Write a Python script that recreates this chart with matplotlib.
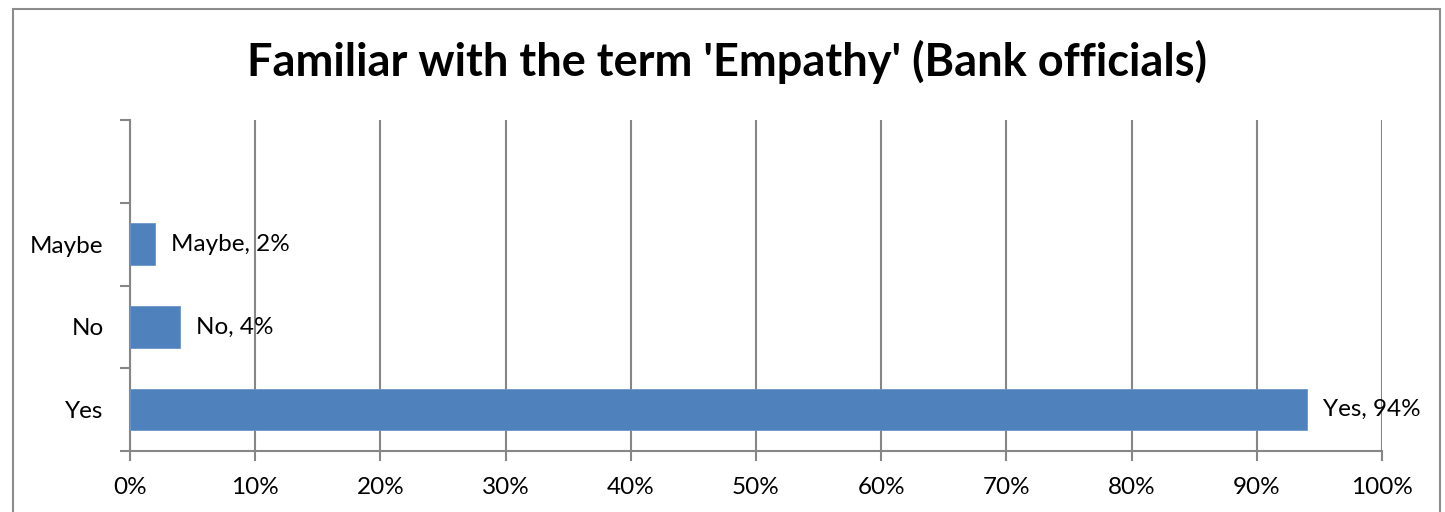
import matplotlib
matplotlib.use("Agg")
import matplotlib.pyplot as plt
from matplotlib.patches import Rectangle
from matplotlib.ticker import MultipleLocator, FuncFormatter

categories = ["Yes", "No", "Maybe"]
values = [94, 4, 2]
title = "Familiar with the term 'Empathy' (Bank officials)"

plt.rcParams["font.family"] = ["Lato", "DejaVu Sans"]

W, H = 1445, 512
fig = plt.figure(figsize=(W / 100, H / 100), dpi=100)

# outer chart frame
fig.patches.append(Rectangle((13 / W, -0.05), (1440 - 13) / W, 1.05 - 9 / H,
                             transform=fig.transFigure, fill=False,
                             edgecolor="#8c8c8c", linewidth=1.5))

left, right, top, bottom = 130, 1382, 120, 451
ax = fig.add_axes([left / W, 1 - bottom / H, (right - left) / W, (bottom - top) / H])

pos = list(range(len(categories)))
ax.barh(pos, values, height=0.5, color="#4F81BD", edgecolor="#6b97cc",
        linewidth=0.6, zorder=3)

for p, c, v in zip(pos, categories, values):
    ax.annotate(f"{c}, {v}%", xy=(v, p), xytext=(11.5, 0), textcoords="offset points",
                ha="left", va="center", fontsize=17.5, color="black")

ax.set_xlim(0, 100)
ax.set_ylim(-0.5, len(categories) + 0.5)
ax.xaxis.set_major_locator(MultipleLocator(10))
ax.xaxis.set_major_formatter(FuncFormatter(lambda x, _: f"{x:.0f}%"))
ax.set_yticks(pos)
ax.set_yticklabels(categories)
ax.set_yticks([i - 0.5 for i in range(len(categories) + 2)], minor=True)

ax.grid(axis="x", color="#868686", linewidth=1.5, zorder=0)
ax.tick_params(axis="x", which="major", length=7, width=1.5, color="#868686",
               labelsize=17.5, pad=12)
ax.tick_params(axis="y", which="major", length=0, labelsize=17.5, pad=19)
ax.tick_params(axis="y", which="minor", length=7, width=1.5, color="#868686")

for s in ["top", "right"]:
    ax.spines[s].set_visible(False)
for s in ["left", "bottom"]:
    ax.spines[s].set_color("#868686")
    ax.spines[s].set_linewidth(1.5)

fig.text(727 / W, 1 - 62 / H, title, ha="center", va="center",
         fontsize=32.5, fontweight="bold")

fig.savefig("out.png", dpi=100)
